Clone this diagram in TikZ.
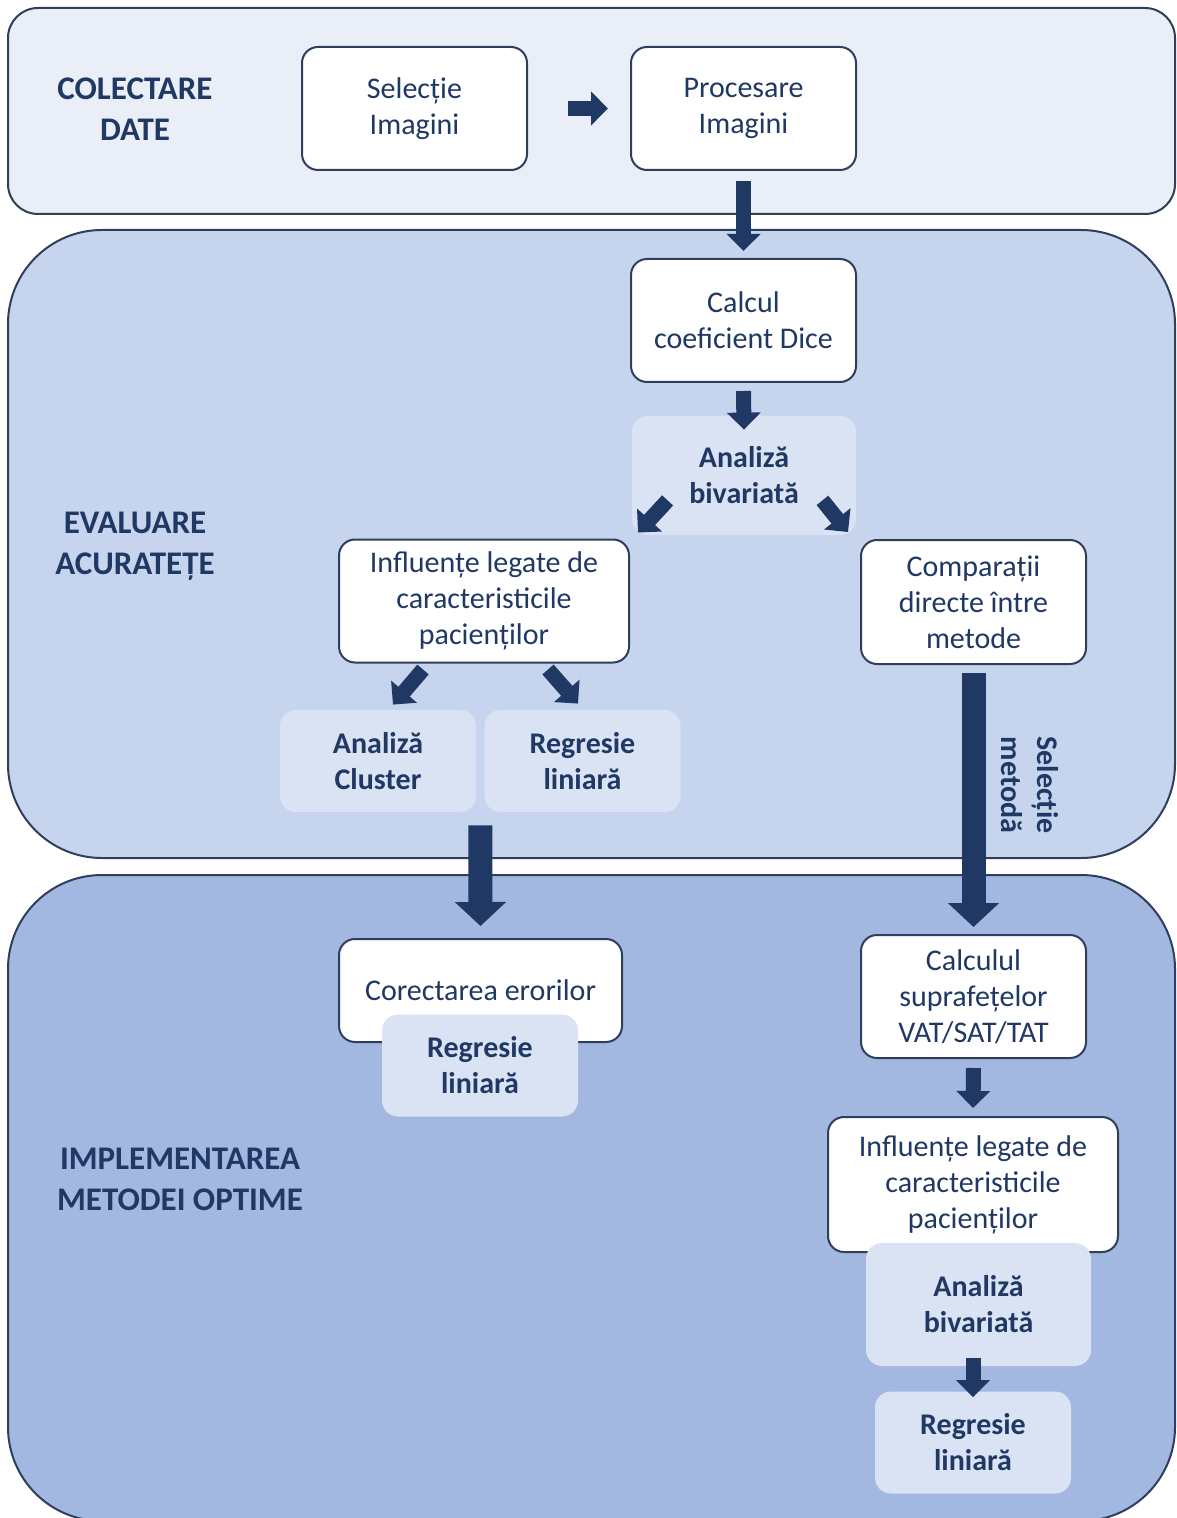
\documentclass[tikz,border=0pt]{standalone}
\usepackage{fontspec}
\setmainfont{Carlito}
\usepackage{tikz}
\usetikzlibrary{arrows.meta,positioning,calc}

\definecolor{navy}{HTML}{1F3864}
\definecolor{edge}{HTML}{2F3E5C}
\definecolor{paleband}{HTML}{E9EEF7}
\definecolor{midband}{HTML}{C6D4EE}
\definecolor{deepband}{HTML}{A2B8E0}
\definecolor{softfill}{HTML}{DAE3F3}

\begin{document}
\begin{tikzpicture}[
    x=0.5pt, y=-0.5pt,
    panel/.style={draw=edge, line width=1pt, rounded corners=#1},
    box/.style={rectangle, draw=edge, line width=1pt, fill=white, rounded corners=8pt, minimum width=112.5pt, minimum height=61.5pt, inner sep=0pt, align=center, text=navy, font=\fontsize{15}{18}\selectfont},
    soft/.style={rectangle, fill=softfill, rounded corners=8pt, minimum width=98pt, minimum height=51pt, inner sep=0pt, align=center, text=navy, font=\bfseries\fontsize{15}{18}\selectfont},
    stage/.style={align=center, text=navy, font=\bfseries\fontsize{16.5}{20.5}\selectfont},
    arrow/.style={-{Triangle[width=16.5pt,length=8.5pt]}, line width=7.5pt, draw=navy},
    bigarrow/.style={-{Triangle[width=25pt,length=12pt]}, line width=12pt, draw=navy},
]
    \useasboundingbox (0,0) rectangle (1176,1518);

    % bands
    \draw[panel=15pt, fill=paleband] (8,8) rectangle (1175,214);
    \draw[panel=47pt, fill=midband] (8,230) rectangle (1175,858);
    \draw[panel=47pt, fill=deepband] (8,875) rectangle (1175,1521);

    % stage titles
    \node[stage] (collect) at (135,109.5) {COLECTARE\\DATE};
    \node[stage] (eval) at (135,546) {EVALUARE\\ACURATEȚE};
    \node[stage] (impl) at (180,1179) {IMPLEMENTAREA\\METODEI OPTIME};

    % data collection
    \node[box] (sel) at (414.5,108.5) {Selecție\\Imagini};
    \node[box] (proc) at (743.5,108.5) {Procesare\\Imagini};

    % accuracy
    \node[box] (dice) at (743.5,320.5) {Calcul\\coeficient Dice};
    \node[soft, minimum width=112pt, minimum height=59.5pt] (biv) at (744,475.5) {Analiză\\bivariată};
    \node[box, minimum width=145pt] (infl) at (484,601) {Influențe legate de\\caracteristicile\\pacienților};
    \node[box, minimum height=62pt] (comp) at (973.5,602) {Comparații\\directe între\\metode};
    \node[soft] (clus) at (378,761) {Analiză\\Cluster};
    \node[soft] (lin) at (582.5,761) {Regresie\\liniară};
    \node[text=navy, font=\bfseries\fontsize{15}{18}\selectfont, align=center, rotate=-90] (pick) at (1030,785) {Selecție\\metodă};

    % optimal method
    \node[box, minimum width=141.5pt, minimum height=51.5pt] (corect) at (480.5,990.5) {Corectarea erorilor};
    \node[soft] (lin2) at (480,1065.5) {Regresie\\liniară};
    \node[box] (surf) at (973.5,996.5) {Calculul\\suprafețelor\\VAT/SAT/TAT};
    \node[box, minimum width=145pt, minimum height=67.5pt] (infl2) at (973,1184.5) {Influențe legate de\\caracteristicile\\pacienților};
    \node[soft, minimum width=112.5pt, minimum height=61.5pt] (biv2) at (978.5,1304.5) {Analiză\\bivariată};
    \node[soft] (lin3) at (973,1442.5) {Regresie\\liniară};

    \coordinate (gap) at ($(clus.south east)!.5!(lin.south west)$);

    \draw[arrow] ([xshift=20pt]sel.east) -- ([xshift=-11pt]proc.west);
    \draw[arrow] ([yshift=-5pt]proc.south) -- ([yshift=3.5pt]dice.north);
    \draw[arrow] ([yshift=-4pt]dice.south) -- ([yshift=-7pt]biv.north);
    \draw[arrow] ([xshift=18pt,yshift=17.5pt]biv.south west) -- ([xshift=4pt,yshift=3pt]infl.north east);
    \draw[arrow] ([xshift=-17pt,yshift=17.5pt]biv.south east) -- ([xshift=-6pt,yshift=3.5pt]comp.north west);
    \draw[arrow] ([xshift=-30.5pt,yshift=-3pt]infl.south) -- ([xshift=7.5pt,yshift=2.5pt]clus.north);
    \draw[arrow] ([xshift=32pt,yshift=-3pt]infl.south) -- ([xshift=-2.25pt,yshift=3pt]lin.north);
    \draw[bigarrow] ([yshift=-6.5pt]gap) -- ([yshift=6pt]corect.north);
    \draw[bigarrow] ([yshift=-4pt]comp.south) -- ([yshift=3.5pt]surf.north);
    \draw[arrow] ([yshift=-4.5pt]surf.south) -- ([yshift=4pt]infl2.north);
    \draw[arrow] ([xshift=-2.75pt,yshift=4pt]biv2.south) -- ([yshift=-3pt]lin3.north);
\end{tikzpicture}
\end{document}
